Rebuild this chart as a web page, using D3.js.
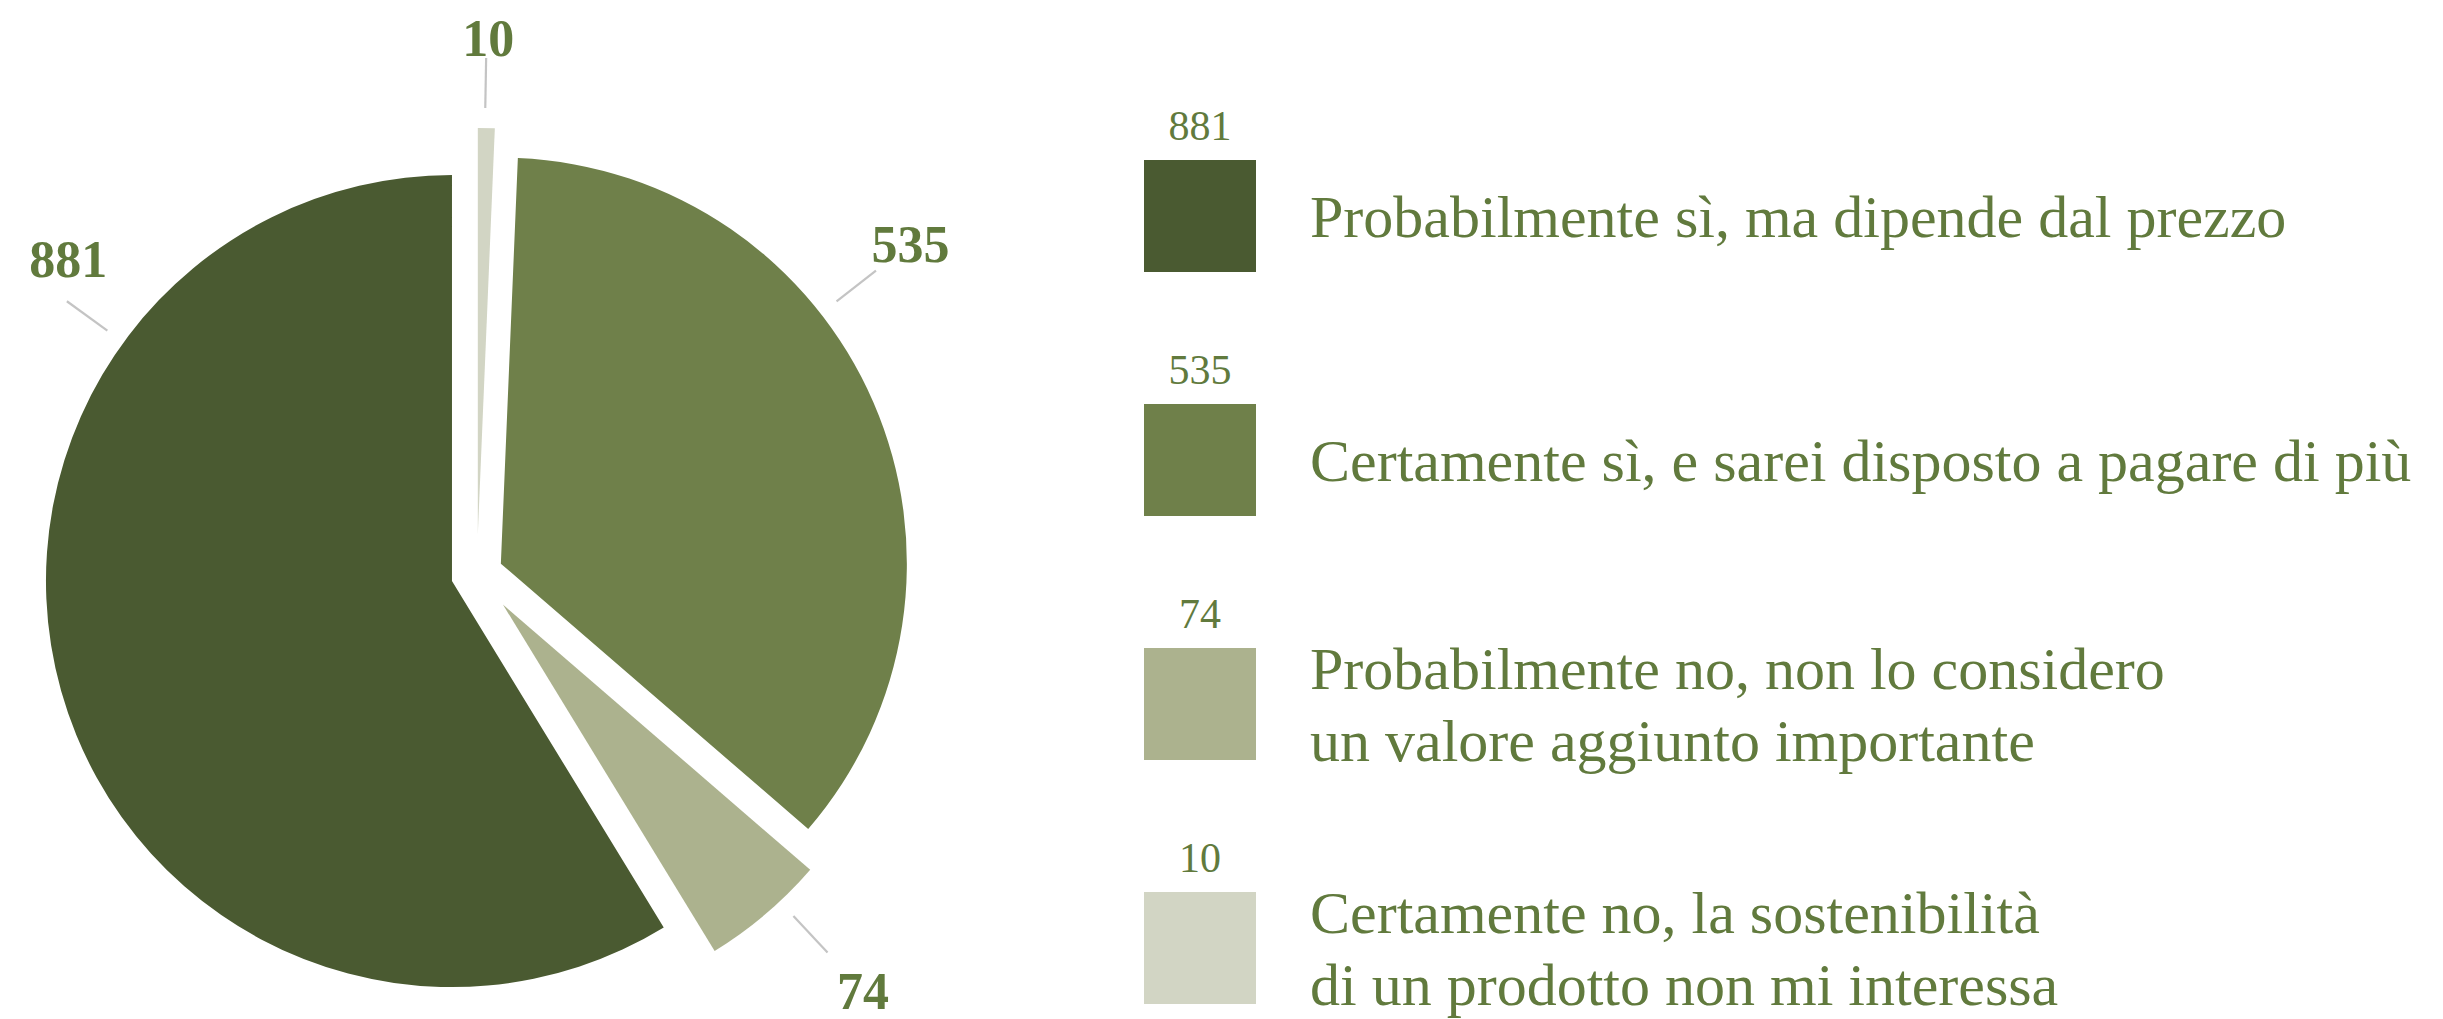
<!DOCTYPE html>
<html>
<head>
<meta charset="utf-8">
<script src="https://cdn.jsdelivr.net/npm/d3@7"></script>
<style>
  html, body { margin: 0; padding: 0; background: #fff; }
  svg { display: block; }
</style>
</head>
<body>
<div id="chart"></div>
<script>
// data, in legend order
const categories = [
  ["Probabilmente sì, ma dipende dal prezzo"],
  ["Certamente sì, e sarei disposto a pagare di più"],
  ["Probabilmente no, non lo considero", "un valore aggiunto importante"],
  ["Certamente no, la sostenibilità", "di un prodotto non mi interessa"]
];
const values = [881, 535, 74, 10];
const colors = ["#4a5a31", "#6f804a", "#acb28e", "#d2d5c4"];

// drawing order round the pie, clockwise, starting where 881 begins
const drawRank = [0, 2, 3, 1];
// how far each slice is pulled out, and where its leader/label sit (degrees from 12 o'clock)
const explode = [26, 26, 40, 40];
const leaderAngleDeg = [306, 52, 137, 1];
const labelAngleDeg = [310, 52, 137, 1.2];
const labelGap = [95, 114, 122, 90];

const width = 2443, height = 1019;
const textColor = "#617a3d";
const cx = 477, cy = 574, radius = 406;
const serif = "'Liberation Serif', 'DejaVu Serif', serif";

const svg = d3.select("#chart").append("svg")
  .attr("width", width)
  .attr("height", height);

const rows = values.map((v, i) => ({ i, value: v, lines: categories[i], color: colors[i] }));
const total = d3.sum(values);
const start = -2 * Math.PI * values[0] / total;

const pie = d3.pie()
  .value(d => d.value)
  .sort((a, b) => drawRank[a.i] - drawRank[b.i])
  .startAngle(start)
  .endAngle(start + 2 * Math.PI);

const arc = d3.arc().innerRadius(0).outerRadius(radius);
const arcs = pie(rows);

const pieG = svg.append("g").attr("transform", `translate(${cx},${cy})`);

const slice = pieG.selectAll("g.slice")
  .data(arcs)
  .join("g")
    .attr("class", "slice")
    .attr("transform", d => {
      const mid = (d.startAngle + d.endAngle) / 2;
      const off = explode[d.data.i];
      return `translate(${Math.sin(mid) * off},${-Math.cos(mid) * off})`;
    });

slice.append("path")
  .attr("d", arc)
  .attr("fill", d => d.data.color);

// leader lines + value labels
const polar = (a, r) => [Math.sin(a) * r, -Math.cos(a) * r];

slice.each(function(d) {
  const g = d3.select(this);
  const la = leaderAngleDeg[d.data.i] * Math.PI / 180;
  const p1 = polar(la, radius + 20);
  const p2 = polar(la, radius + 70);
  g.append("line")
    .attr("x1", p1[0]).attr("y1", p1[1])
    .attr("x2", p2[0]).attr("y2", p2[1])
    .attr("stroke", "#c4c4c4")
    .attr("stroke-width", 2.2);
  const a = labelAngleDeg[d.data.i] * Math.PI / 180;
  const pt = polar(a, radius + labelGap[d.data.i]);
  g.append("text")
    .attr("x", pt[0])
    .attr("y", pt[1])
    .attr("dy", "0.35em")
    .attr("text-anchor", "middle")
    .attr("font-family", serif)
    .attr("font-weight", "bold")
    .attr("font-size", 52)
    .attr("fill", textColor)
    .text(d.data.value);
});

// legend
const y = d3.scaleLinear().domain([0, 1]).range([160, 404]);
const sq = 112, sqX = 1144, textX = 1310, lineH = 72;

const legend = svg.append("g")
  .selectAll("g")
  .data(rows)
  .join("g")
    .attr("transform", d => `translate(0,${y(d.i)})`);

legend.append("rect")
  .attr("x", sqX)
  .attr("y", 0)
  .attr("width", sq)
  .attr("height", sq)
  .attr("fill", d => d.color);

legend.append("text")
  .attr("x", sqX + sq / 2)
  .attr("y", -20)
  .attr("text-anchor", "middle")
  .attr("font-family", serif)
  .attr("font-size", 42)
  .attr("fill", textColor)
  .text(d => d.value);

legend.append("text")
  .attr("font-family", serif)
  .attr("font-size", 60)
  .attr("fill", textColor)
  .selectAll("tspan")
  .data(d => d.lines.map((t, k) => ({ t, k, n: d.lines.length })))
  .join("tspan")
    .attr("x", textX)
    .attr("y", l => sq / 2 + (l.k - (l.n - 1) / 2) * lineH + 21)
    .text(l => l.t);
</script>
</body>
</html>
